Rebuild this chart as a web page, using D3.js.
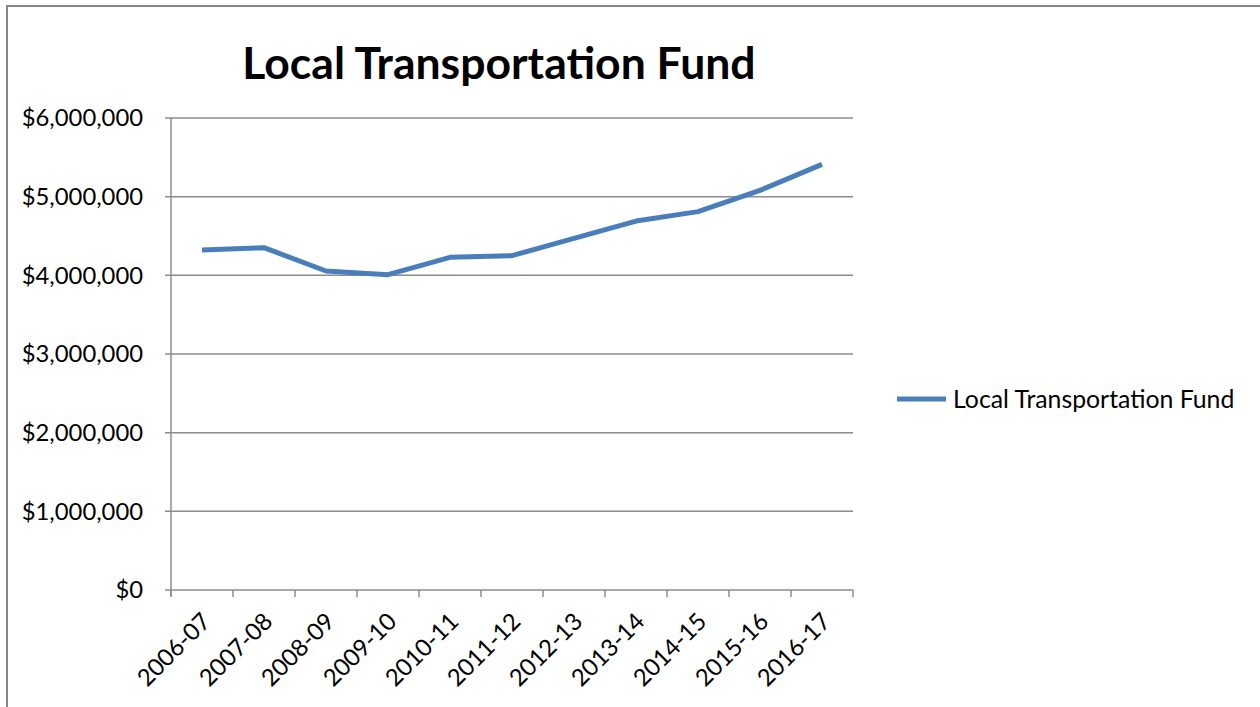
<!DOCTYPE html>
<html><head><meta charset="utf-8">
<script src="https://cdn.jsdelivr.net/npm/d3@7"></script>
<style>body{margin:0;background:#fff}svg{display:block}</style>
</head><body>
<svg id="c" width="1260" height="707"></svg>
<script>
const categories = ["2006-07","2007-08","2008-09","2009-10","2010-11","2011-12","2012-13","2013-14","2014-15","2015-16","2016-17"];
const values = [4322000,4352000,4055000,4008000,4229000,4250000,4470000,4690000,4810000,5080000,5410000];
const yTicks = [0,1000000,2000000,3000000,4000000,5000000,6000000];
const seriesName = "Local Transportation Fund";
const title = "Local Transportation Fund";

const svg = d3.select("#c");
const font = "Lato, 'Open Sans', sans-serif";
const fs = 23.8;
svg.append("rect").attr("x",7).attr("y",6).attr("width",1260).attr("height",710)
  .attr("fill","#fff").attr("stroke","#878787").attr("stroke-width",2);

const L=171, R=853, T=118, B=590;
const x = d3.scaleBand().domain(categories).range([L,R]);
const y = d3.scaleLinear().domain([0,6000000]).range([B,T]);

// gridlines
svg.append("g").selectAll("line").data(yTicks).join("line")
  .attr("x1",L-6).attr("x2",R).attr("y1",d=>y(d)).attr("y2",d=>y(d))
  .attr("stroke","#8c8c8c").attr("stroke-width",1.5);
// y axis line
svg.append("line").attr("x1",L).attr("x2",L).attr("y1",T).attr("y2",B+6)
  .attr("stroke","#8c8c8c").attr("stroke-width",1.5);
// y labels
const fmt = d => "$" + d3.format(",")(d);
svg.append("g").selectAll("text").data(yTicks).join("text")
  .attr("x",L-28).attr("y",d=>y(d)).attr("dy","0.35em").attr("text-anchor","end")
  .attr("font-family",font).attr("font-size",fs).attr("fill","#000").text(fmt);
// x ticks
const xt = categories.map(c=>x(c)).concat([R]);
svg.append("g").selectAll("line").data(xt).join("line")
  .attr("x1",d=>d).attr("x2",d=>d).attr("y1",B).attr("y2",B+7)
  .attr("stroke","#8c8c8c").attr("stroke-width",1.5);
// x labels
svg.append("g").selectAll("text").data(categories).join("text")
  .attr("transform",d=>`translate(${x(d)+x.bandwidth()/2+10},${B+33}) rotate(-45)`)
  .attr("text-anchor","end")
  .attr("font-family",font).attr("font-size",fs).attr("fill","#000").text(d=>d);

// line
const line = d3.line().x((d,i)=>x(categories[i])+x.bandwidth()/2).y(d=>y(d));
svg.append("path").datum(values).attr("d",line).attr("fill","none")
  .attr("stroke","#4a7ebb").attr("stroke-width",5).attr("stroke-linejoin","round");

// title
svg.append("text").attr("x",499).attr("y",79).attr("text-anchor","middle")
  .attr("font-family",font).attr("font-weight","bold").attr("font-size",44.5).text(title);

// legend
svg.append("line").attr("x1",897).attr("x2",946).attr("y1",399).attr("y2",399)
  .attr("stroke","#4a7ebb").attr("stroke-width",5);
svg.append("text").attr("x",953).attr("y",399).attr("dy","0.35em")
  .attr("font-family",font).attr("font-size",24.8).text(seriesName);
</script>
</body></html>
